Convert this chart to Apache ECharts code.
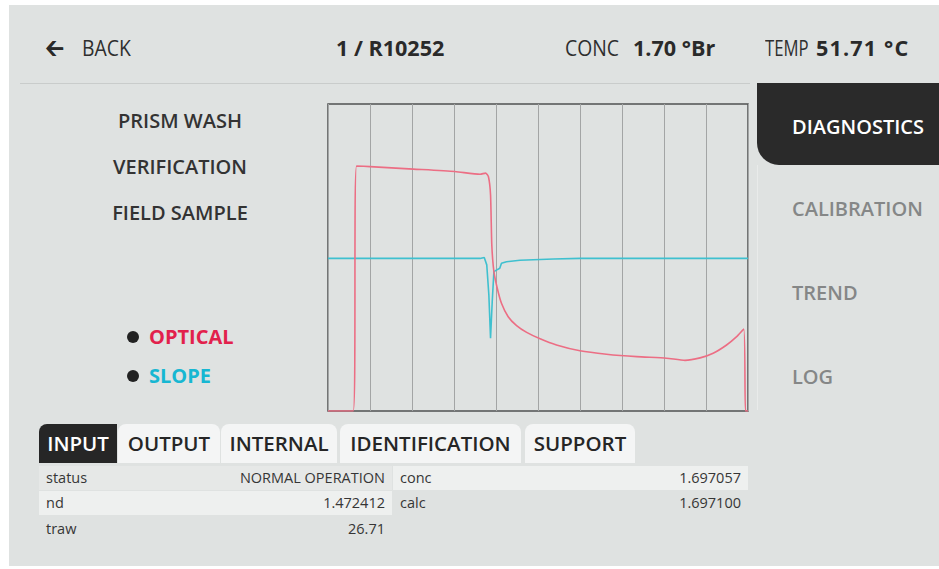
<!DOCTYPE html>
<html>
<head>
<meta charset="utf-8">
<script src="https://cdn.jsdelivr.net/npm/echarts@6/dist/echarts.min.js"></script>
<style>
  html, body { margin: 0; padding: 0; background: #fff; }
  .panel {
    position: absolute; left: 9px; top: 5px; width: 930px; height: 561px;
    background: #dfe2e1; font-family: "Open Sans", sans-serif; color: #333;
  }
  .t { position: absolute; white-space: nowrap; }
  .hdr { font-size: 22px; line-height: 26px; color: #2e2e2e; transform: scaleX(0.88); transform-origin: left center; }
  .hdrb { font-size: 22px; line-height: 26px; color: #2a2a2a; font-weight: 700; transform: scaleX(0.98); transform-origin: left center; }
  .sep { position: absolute; left: 11px; top: 78px; width: 730px; height: 1px; background: #c9cccb; }
  .side-active {
    position: absolute; left: 748px; top: 78px; width: 182px; height: 82px;
    background: #2a2a2a; border-bottom-left-radius: 22px;
  }
  .side-line { position: absolute; left: 748px; top: 160px; width: 1px; height: 245px; background: #e9ebea; }
  .menu { font-size: 20px; font-weight: 600; line-height: 26px; }
  .dot { position: absolute; width: 12px; height: 12px; border-radius: 6px; background: #222; }
  .tab {
    position: absolute; top: 419px; height: 39px; line-height: 39px; background: #f4f5f5;
    border-radius: 8px 8px 0 0; font-size: 20.5px; font-weight: 600; color: #262626; text-align: center;
  }
  .cell { position: absolute; height: 24px; line-height: 24px; font-size: 14.5px; color: #363636; }
  .cell span { position: absolute; }
  #chart { position: absolute; left: 314px; top: 94px; width: 430px; height: 317px; }
</style>
</head>
<body>
<div class="panel">
  <div class="t hdrb" style="left:37px;top:29px;-webkit-text-stroke:0.8px #2a2a2a;">&#129120;</div>
  <div class="t hdr" style="left:73px;top:29px;">BACK</div>
  <div class="t hdrb" style="left:327px;top:29px;">1 / R10252</div>
  <div class="t hdr" style="left:556px;top:29px;">CONC</div>
  <div class="t hdrb" style="left:624px;top:29px;">1.70 °Br</div>
  <div class="t hdr" style="left:756px;top:29px;transform:scaleX(0.76);">TEMP</div>
  <div class="t hdrb" style="left:807px;top:29px;letter-spacing:1.2px;">51.71 °C</div>
  <div class="sep"></div>

  <div class="side-active"></div>
  <div class="side-line"></div>
  <div class="t menu" style="left:783px;top:109px;color:#fff;">DIAGNOSTICS</div>
  <div class="t menu" style="left:783px;top:191px;color:#858787;">CALIBRATION</div>
  <div class="t menu" style="left:783px;top:275px;color:#858787;">TREND</div>
  <div class="t menu" style="left:783px;top:359px;color:#858787;">LOG</div>

  <div class="t menu" style="left:71px;width:200px;text-align:center;top:103px;">PRISM WASH</div>
  <div class="t menu" style="left:71px;width:200px;text-align:center;top:149px;">VERIFICATION</div>
  <div class="t menu" style="left:71px;width:200px;text-align:center;top:195px;">FIELD SAMPLE</div>

  <div class="dot" style="left:118px;top:326px;"></div>
  <div class="t menu" style="left:140px;top:319px;color:#e2214c;font-weight:700;">OPTICAL</div>
  <div class="dot" style="left:118px;top:365px;"></div>
  <div class="t menu" style="left:140px;top:358px;color:#17b7d2;font-weight:700;">SLOPE</div>

  <div id="chart"></div>

  <div class="tab" style="left:30px;width:78px;background:#262626;color:#fff;border-radius:8px 0 0 0;">INPUT</div>
  <div class="tab" style="left:109px;width:102px;">OUTPUT</div>
  <div class="tab" style="left:212px;width:116px;">INTERNAL</div>
  <div class="tab" style="left:331px;width:181px;">IDENTIFICATION</div>
  <div class="tab" style="left:516px;width:110px;">SUPPORT</div>

  <div class="cell" style="left:30px;top:461px;width:353px;background:#e6e8e7;"><span style="left:7px">status</span><span style="right:7px">NORMAL OPERATION</span></div>
  <div class="cell" style="left:384px;top:461px;width:355px;background:#eef0ef;"><span style="left:7px">conc</span><span style="right:7px">1.697057</span></div>
  <div class="cell" style="left:30px;top:486px;width:353px;background:#eef0ef;"><span style="left:7px">nd</span><span style="right:7px">1.472412</span></div>
  <div class="cell" style="left:384px;top:486px;width:355px;"><span style="left:7px">calc</span><span style="right:7px">1.697100</span></div>
  <div class="cell" style="left:30px;top:512px;width:353px;"><span style="left:7px">traw</span><span style="right:7px">26.71</span></div>
</div>

<script>
// optical signal, [time %, level %]
const opticalData = [
  [0, 0], [6.0, 0], [6.8, 79.8], [10, 79.6], [20.3, 78.8], [30.2, 78.0], [36.2, 77.1],
  [37.5, 77.5], [38.2, 76.3], [38.7, 70.4], [39.0, 54.1], [39.5, 45.4], [40.3, 40.0],
  [41.3, 35.1], [42.9, 30.7], [44.9, 27.8], [47.3, 25.6], [50.5, 23.5], [54.4, 21.5],
  [60, 19.6], [66.3, 18.5], [73.5, 17.7], [80.6, 17.2], [85, 16.5], [88.6, 17.3],
  [91.7, 18.8], [94.9, 21.5], [97.3, 24.2], [99.0, 26.7], [99.4, 0], [100, 0]
]
// slope signal
const slopeData = [
  [0, 49.7], [36.2, 49.7], [37.2, 50.0], [37.8, 47.6], [38.3, 37.8], [38.7, 23.7],
  [39.1, 35.6], [39.5, 45.4], [40.1, 45.9], [40.9, 46.5], [41.3, 48.1], [42.5, 48.6],
  [45.7, 49.1], [53.7, 49.5], [60, 49.7], [100, 49.7]
]
const xTicks = [0, 10, 20, 30, 40, 50, 60, 70, 80, 90, 100]

const chart = echarts.init(document.getElementById('chart'))
chart.setOption({
  animation: false,
  grid: {
    left: 5, right: 5, top: 5, bottom: 5,
    show: true, borderColor: '#505252', borderWidth: 1.5, backgroundColor: 'transparent'
  },
  xAxis: {
    type: 'value', min: xTicks[0], max: xTicks[xTicks.length - 1], interval: 10,
    axisLine: { show: false }, axisTick: { show: false }, axisLabel: { show: false },
    splitLine: { show: true, lineStyle: { color: '#a3a5a5', width: 1 } }
  },
  yAxis: {
    type: 'value', min: 0, max: 100,
    axisLine: { show: false }, axisTick: { show: false }, axisLabel: { show: false },
    splitLine: { show: false }
  },
  series: [
    {
      name: 'SLOPE', type: 'line', data: slopeData, symbol: 'none',
      lineStyle: { color: '#3fc0cf', width: 1.6 }
    },
    {
      name: 'OPTICAL', type: 'line', data: opticalData, symbol: 'none', smooth: 0.2,
      lineStyle: { color: '#ec6e84', width: 1.6 }
    }
  ]
})
</script>
</body>
</html>
